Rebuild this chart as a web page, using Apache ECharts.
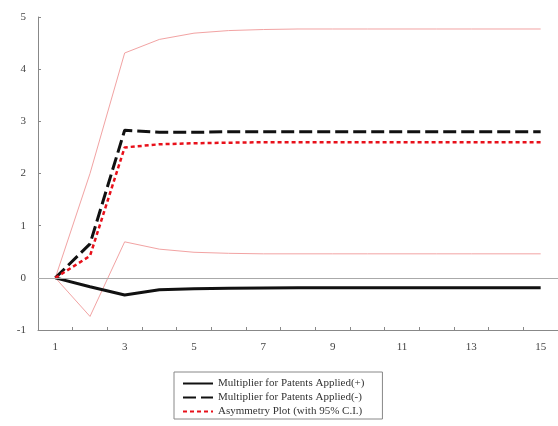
<!DOCTYPE html>
<html>
<head>
<meta charset="utf-8">
<script src="https://cdn.jsdelivr.net/npm/echarts@6/dist/echarts.min.js"></script>
<style>
  html, body { margin: 0; padding: 0; background: #fff; }
  #chart { width: 558px; height: 426px; }
</style>
</head>
<body>
<div id="chart"></div>
<script>
// Horizon (periods) on the x axis
const periods = ['1','2','3','4','5','6','7','8','9','10','11','12','13','14','15'];

// Dynamic multipliers for patents applied
const multPos = [0, -0.17, -0.33, -0.23, -0.21, -0.20, -0.195, -0.19, -0.19, -0.19, -0.19, -0.19, -0.19, -0.19, -0.19];
const multNeg = [0, 0.65, 2.83, 2.79, 2.79, 2.80, 2.80, 2.80, 2.80, 2.80, 2.80, 2.80, 2.80, 2.80, 2.80];
const asym    = [0, 0.42, 2.50, 2.56, 2.58, 2.59, 2.60, 2.60, 2.60, 2.60, 2.60, 2.60, 2.60, 2.60, 2.60];
const ciUpper = [0, 2.00, 4.31, 4.57, 4.69, 4.74, 4.76, 4.77, 4.77, 4.77, 4.77, 4.77, 4.77, 4.77, 4.77];
const ciLower = [0, -0.74, 0.69, 0.55, 0.49, 0.47, 0.46, 0.46, 0.46, 0.46, 0.46, 0.46, 0.46, 0.46, 0.46];

const yTicks = { min: -1, max: 5, step: 1 };

const names = [
  'Multiplier for Patents Applied(+)',
  'Multiplier for Patents Applied(-)',
  'Asymmetry Plot (with 95% C.I.)'
];

const serif = '"Liberation Serif", "DejaVu Serif", serif';
const chart = echarts.init(document.getElementById('chart'));

chart.setOption({
  animation: false,
  backgroundColor: '#fff',
  grid: { left: 38, top: 17, width: 522, height: 313, containLabel: false },
  xAxis: {
    type: 'category',
    data: periods,
    boundaryGap: true,
    axisLine: { onZero: false, lineStyle: { color: '#888', width: 1 } },
    axisTick: { show: true, inside: true, length: 3, interval: 0, lineStyle: { color: '#888' } },
    axisLabel: { interval: 1, margin: 12, color: '#444', fontFamily: serif, fontSize: 11 },
    splitLine: { show: false }
  },
  yAxis: {
    type: 'value',
    min: yTicks.min, max: yTicks.max, interval: yTicks.step,
    axisLine: { show: true, lineStyle: { color: '#888', width: 1 } },
    axisTick: { show: true, inside: true, length: 3, lineStyle: { color: '#888' } },
    axisLabel: { margin: 12, color: '#444', fontFamily: serif, fontSize: 11 },
    splitLine: { show: false }
  },
  legend: {
    data: names,
    orient: 'vertical',
    left: 174, top: 372,
    padding: [6, 18, 2, 8],
    itemWidth: 30, itemHeight: 12, itemGap: 3, itemTextGap: 13,
    itemStyle: { opacity: 0 },
    borderColor: '#888', borderWidth: 1,
    textStyle: { fontFamily: serif, fontSize: 11, color: '#333' }
  },
  series: [
    {
      name: 'upper', type: 'line', data: ciUpper, symbol: 'none', silent: true,
      lineStyle: { color: '#f2a3a3', width: 1 }, z: 1
    },
    {
      name: 'lower', type: 'line', data: ciLower, symbol: 'none', silent: true,
      lineStyle: { color: '#f2a3a3', width: 1 }, z: 1,
      markLine: {
        silent: true, symbol: 'none', label: { show: false },
        lineStyle: { color: '#aaa', width: 1, type: 'solid' },
        data: [{ yAxis: 0 }]
      }
    },
    {
      name: names[0], type: 'line', data: multPos, symbol: 'none',
      lineStyle: { color: '#111', width: 3 }, itemStyle: { color: '#111' }, z: 3
    },
    {
      name: names[1], type: 'line', data: multNeg, symbol: 'none',
      lineStyle: { color: '#111', width: 3, type: [13, 5] }, itemStyle: { color: '#111' }, z: 3
    },
    {
      name: names[2], type: 'line', data: asym, symbol: 'none',
      lineStyle: { color: '#e8101a', width: 2.5, type: [4, 3] }, itemStyle: { color: '#e8101a' }, z: 4
    }
  ]
});
</script>
</body>
</html>
